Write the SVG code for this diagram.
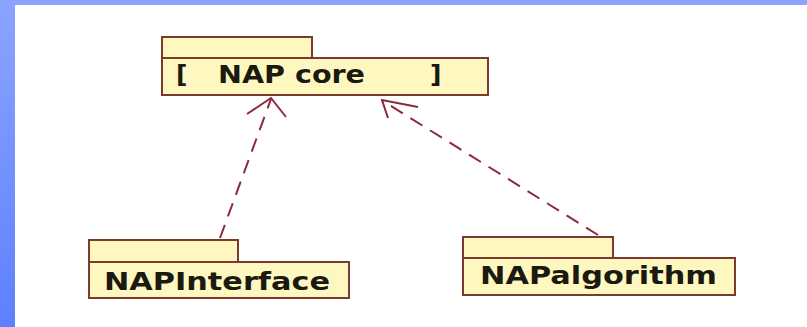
<svg xmlns="http://www.w3.org/2000/svg" width="807" height="327" viewBox="0 0 807 327">
<defs>
<linearGradient id="bg" x1="0" y1="0" x2="0" y2="1">
<stop offset="0" stop-color="#8ca4ff"/>
<stop offset="1" stop-color="#5d80ff"/>
</linearGradient>
<style>
.pk{fill:#fff7c0;stroke:#7a3b2e;stroke-width:2}
.lb{font-family:"DejaVu Sans",sans-serif;font-weight:bold;font-size:25px;fill:#1a1a10}
.dep{fill:none;stroke:#8a2a3a;stroke-width:2;stroke-dasharray:14 9}
.ah{fill:none;stroke:#8a2a3a;stroke-width:2}
</style>
</defs>
<rect x="0" y="0" width="807" height="327" fill="url(#bg)"/>
<rect x="15" y="5" width="792" height="322" fill="#ffffff"/>
<g id="nap-core">
<rect class="pk" x="162" y="37" width="150" height="21"/>
<rect class="pk" x="162" y="58" width="326" height="37"/>
<text class="lb" x="176" y="83">[</text>
<text class="lb" x="218" y="83" textLength="147" lengthAdjust="spacingAndGlyphs">NAP core</text>
<text class="lb" x="430" y="83">]</text>
</g>
<g id="nap-interface">
<rect class="pk" x="89" y="240" width="149" height="22"/>
<rect class="pk" x="89" y="262" width="260" height="36"/>
<text class="lb" x="104" y="290" textLength="226" lengthAdjust="spacingAndGlyphs">NAPInterface</text>
</g>
<g id="nap-algorithm">
<rect class="pk" x="463" y="237" width="150" height="21"/>
<rect class="pk" x="463" y="258" width="272" height="37"/>
<text class="lb" x="480" y="284" textLength="237" lengthAdjust="spacingAndGlyphs">NAPalgorithm</text>
</g>
<g id="connectors">
<path class="dep" d="M220,238 L271,99"/>
<path class="ah" d="M247,114 L271,98 L286,117"/>
<path class="dep" d="M598,235 L383,101"/>
<path class="ah" d="M418,107 L382,100 L388,118"/>
</g>
</svg>
